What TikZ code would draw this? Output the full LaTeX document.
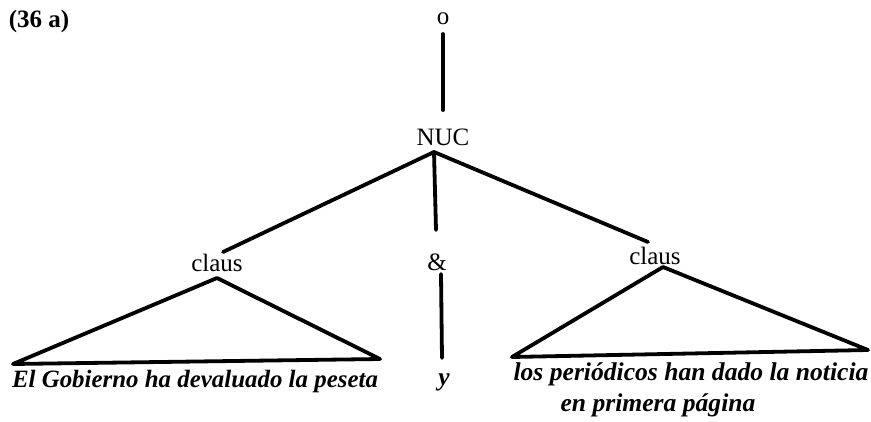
\documentclass[tikz,border=0pt]{standalone}
\usepackage{fontspec}
\setmainfont{Liberation Serif}
\begin{document}
\begin{tikzpicture}[x=1pt,y=-1pt,
  lab/.style={font=\fontsize{25}{28}\selectfont, inner sep=0pt},
  sent/.style={font=\fontsize{25.6}{28}\selectfont\bfseries\itshape, inner sep=0pt},
  edge/.style={line width=3.8pt, line cap=round, line join=round}]
\useasboundingbox (0,0) rectangle (871,421);
% labels
\node[lab, font=\fontsize{25}{28}\selectfont\bfseries] (num) at (39,21) {(36 a)};
\node[lab] (o) at (443,19) {o};
\node[lab] (nuc) at (443,137) {NUC};
\node[lab] (lclaus) at (217,263) {claus};
\node[lab] (amp) at (437,262) {\&};
\node[lab] (rclaus) at (655,256) {claus};
\node[sent, font=\fontsize{24.9}{28}\selectfont\bfseries\itshape] (ls) at (195,382) {El Gobierno ha devaluado la peseta};
\node[sent] (y) at (444,382) {y};
\node[sent] (rs1) at (691,374) {los periódicos han dado la noticia};
\node[sent] (rs2) at (658,405) {en primera página};
% connector end points
\coordinate (otop) at (443,34);
\coordinate (obot) at (443,110);
\coordinate (apex) at (434,152);
\coordinate (lend) at (223,252);
\coordinate (rend) at (648,242);
\coordinate (mend) at (436,230);
\coordinate (atop) at (441,274);
\coordinate (abot) at (442,358);
\coordinate (ltop) at (217,278);
\coordinate (lleft) at (13,364);
\coordinate (lright) at (380,359);
\coordinate (rtop) at (663,267);
\coordinate (rleft) at (512,357);
\coordinate (rright) at (868,350);
% connectors
\draw[edge] (otop) -- (obot);
\draw[edge] (apex) -- (lend);
\draw[edge] (apex) -- (rend);
\draw[edge] (apex) -- (mend);
\draw[edge] (atop) -- (abot);
\draw[edge] (ltop) -- (lleft) -- (lright) -- cycle;
\draw[edge] (rtop) -- (rleft) -- (rright) -- cycle;
\end{tikzpicture}
\end{document}
